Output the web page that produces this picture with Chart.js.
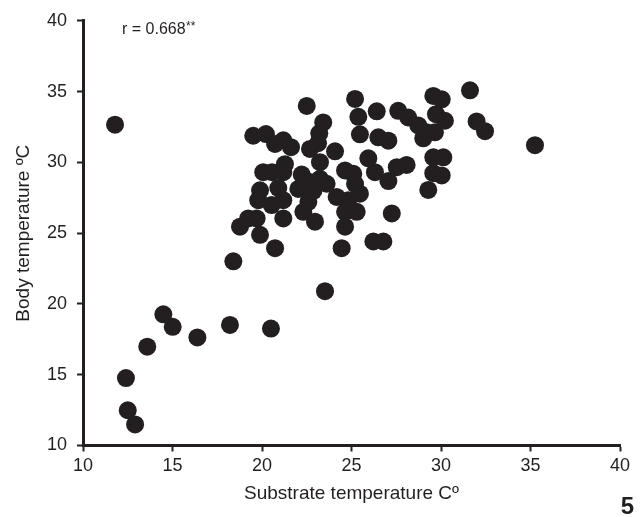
<!DOCTYPE html>
<html>
<head>
<meta charset="utf-8">
<script src="https://cdn.jsdelivr.net/npm/chart.js@4/dist/chart.umd.min.js"></script>
<style>
html,body{margin:0;padding:0;background:#fff;}
#wrap{position:relative;width:644px;height:517px;}
</style>
</head>
<body>
<div id="wrap"><canvas id="c" width="644" height="517"></canvas></div>
<script>
// Substrate temperature (x) and body temperature (y)
const substrateTemp = [
  11.79, 12.40, 12.50, 12.91, 13.59, 14.49, 15.01, 16.39, 18.21, 20.50,
  18.40, 23.52, 20.73, 24.45, 26.22, 26.78, 19.89, 18.77, 19.23, 19.70,
  21.19, 22.96, 24.64, 22.31, 20.54, 19.79, 21.19, 24.64, 25.29, 27.25,
  19.89, 20.91, 22.03, 22.59, 24.17, 24.82, 25.47, 29.29, 27.06, 22.87,
  22.22, 22.68, 23.24, 23.61, 24.64, 25.10, 26.31, 27.53, 28.08, 25.94,
  29.57, 30.13, 29.57, 30.04, 20.07, 20.56, 21.19, 21.28, 23.24, 24.08,
  22.68, 19.51, 20.22, 20.73, 21.19, 21.62, 23.42, 23.20, 23.13, 22.50,
  25.20, 25.38, 26.41, 25.47, 26.50, 27.06, 27.61, 28.17, 28.73, 29.20,
  29.01, 29.66, 29.57, 30.04, 31.62, 29.72, 30.22, 31.99, 32.46, 35.25,
  25.20
];
const bodyTemp = [
  32.66, 14.76, 12.49, 11.49, 16.98, 19.27, 18.38, 17.63, 18.52, 18.26,
  23.01, 20.90, 23.94, 23.94, 24.41, 24.41, 24.88, 25.46, 26.04, 26.04,
  26.04, 25.81, 25.46, 26.51, 26.98, 27.33, 27.33, 26.51, 26.51, 26.39,
  28.03, 28.19, 28.12, 27.21, 27.56, 27.33, 27.79, 28.05, 28.68, 27.98,
  29.14, 28.61, 28.84, 28.49, 29.43, 29.19, 29.31, 29.66, 29.82, 30.29,
  30.36, 30.36, 29.24, 29.08, 29.31, 29.31, 29.31, 29.87, 30.01, 30.78,
  30.95, 31.88, 32.00, 31.30, 31.56, 31.07, 32.82, 32.05, 31.35, 33.99,
  34.48, 33.22, 33.61, 31.98, 31.77, 31.53, 33.64, 33.17, 32.61, 32.12,
  31.70, 32.12, 34.69, 34.45, 35.09, 33.40, 32.94, 32.89, 32.20, 31.21,
  28.47
];
const tickValues = [10, 15, 20, 25, 30, 35, 40];
const xTitle = 'Substrate temperature C\u00BA';
const yTitle = 'Body temperature \u00BAC';
const corrText = 'r = 0.668';
const corrStars = '**';
const panelLabel = '5';

const ink = '#231f20';
const points = substrateTemp.map((x, i) => ({x: x, y: bodyTemp[i]}));

const textPlugin = {
  id: 'texts',
  afterDraw(chart) {
    const ctx = chart.ctx;
    ctx.save();
    ctx.fillStyle = ink;
    ctx.textBaseline = 'alphabetic';
    ctx.textAlign = 'left';
    ctx.font = '16px "Liberation Sans", Arial, sans-serif';
    ctx.fillText(corrText, 122, 34);
    const w = ctx.measureText(corrText).width;
    ctx.font = '12px "Liberation Sans", Arial, sans-serif';
    ctx.fillText(corrStars, 122 + w + 0.5, 30);
    ctx.font = 'bold 24px "Liberation Sans", Arial, sans-serif';
    ctx.textAlign = 'right';
    ctx.fillText(panelLabel, 634, 514);
    ctx.restore();
  }
};

const axisCommon = (title, padObj) => ({
  type: 'linear',
  min: 10,
  max: 40,
  afterBuildTicks: (s) => { s.ticks = tickValues.map(v => ({value: v})); },
  ticks: {
    color: ink,
    font: {family: '"Liberation Sans", Arial, sans-serif', size: 18},
  },
  grid: {
    display: true,
    drawOnChartArea: false,
    drawTicks: true,
    tickLength: 6,
    tickWidth: 2,
    tickColor: ink,
  },
  border: {display: true, color: ink, width: 3},
  title: {
    display: true,
    text: title,
    color: ink,
    font: {family: '"Liberation Sans", Arial, sans-serif', size: 19},
    padding: padObj,
  }
});

const xAxis = axisCommon(xTitle, {top: 4, bottom: 11.6});
xAxis.ticks.padding = 4;
xAxis.afterFit = (s) => { s.height = 71.5; };
const yAxis = axisCommon(yTitle, {top: 12.6, bottom: 4});
yAxis.ticks.padding = 10;
yAxis.afterFit = (s) => { s.width = 83; };

new Chart(document.getElementById('c'), {
  type: 'scatter',
  data: {
    datasets: [{
      data: points,
      backgroundColor: ink,
      borderColor: ink,
      borderWidth: 0,
      pointRadius: 9,
      pointHoverRadius: 9,
      clip: false,
    }]
  },
  options: {
    responsive: false,
    animation: false,
    events: [],
    layout: {padding: {left: 0, right: 24, top: 17.5, bottom: 0}},
    plugins: {
      legend: {display: false},
      tooltip: {enabled: false},
      title: {display: false},
    },
    scales: {x: xAxis, y: yAxis},
  },
  plugins: [textPlugin]
});
</script>
</body>
</html>
